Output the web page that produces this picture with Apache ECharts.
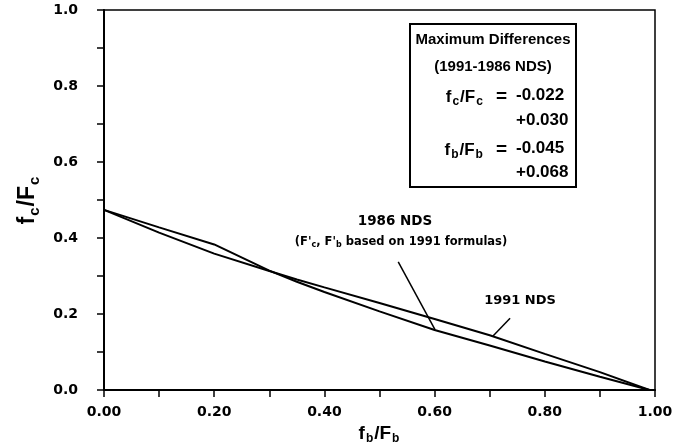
<!DOCTYPE html>
<html><head><meta charset="utf-8">
<script src="https://cdn.jsdelivr.net/npm/echarts@6/dist/echarts.min.js"></script>
<style>html,body{margin:0;padding:0;background:#fff}#c{width:686px;height:445px}</style>
</head><body><div id="c"></div>
<script>
// x = fb/Fb, y = fc/Fc
const nds1986X = [0, 0.1, 0.2, 0.3, 0.35, 0.4, 0.5, 0.6, 0.7, 0.8, 0.9, 0.99];
const nds1986Y = [0.474, 0.428, 0.383, 0.314, 0.285, 0.258, 0.207, 0.158, 0.117, 0.075, 0.035, 0];
const nds1991X = [0, 0.1, 0.2, 0.3, 0.35, 0.4, 0.5, 0.6, 0.7, 0.8, 0.9, 0.99];
const nds1991Y = [0.474, 0.414, 0.359, 0.313, 0.291, 0.27, 0.229, 0.187, 0.144, 0.095, 0.047, 0];
const leader1986 = [[0.534, 0.337], [0.601, 0.158]];
const leader1991 = [[0.737, 0.189], [0.706, 0.142]];
const boxLines = ['-0.022', '+0.030', '-0.045', '+0.068'];

const FF = '"DejaVu Sans", sans-serif';
const BF = '"Liberation Sans", Arial, sans-serif';
const pair = (xs, ys) => xs.map((x, i) => [x, ys[i]]);

const chart = echarts.init(document.getElementById('c'), null, {renderer: 'canvas'});
const axisCommon = {
  type: 'value', min: 0, max: 1, interval: 0.2,
  axisLine: {show: true, onZero: false, lineStyle: {color: '#000', width: 2}},
  axisTick: {show: true, inside: false, length: 7, lineStyle: {color: '#000', width: 1.5}},
  minorTick: {show: true, splitNumber: 2, length: 7, lineStyle: {color: '#000', width: 1.5}},
  splitLine: {show: false},
  minorSplitLine: {show: false}
};
const subRich = (big, small, fam) => ({
  m: {fontFamily: fam || BF, fontWeight: 'bold', fontSize: big, color: '#000'},
  s: {fontFamily: fam || BF, fontWeight: 'bold', fontSize: small, color: '#000', padding: [Math.round(big*0.55), 1, 0, 1]},
  e: {fontFamily: fam || BF, fontWeight: 'bold', fontSize: big + 2, color: '#000', padding: [0, 0, 0, 12]}
});
chart.setOption({
  backgroundColor: '#fff',
  animation: false,
  grid: {left: 104, top: 10, right: 31, bottom: 55, outerBoundsMode: 'none', containLabel: false,
    show: true, borderColor: '#000', borderWidth: 1.5},
  xAxis: Object.assign({}, axisCommon, {
    name: '{m|f}{s|b}{m|/F}{s|b}', nameLocation: 'middle', nameGap: 27,
    nameTextStyle: {rich: subRich(19, 12)},
    axisLabel: {margin: 15, color: '#000', fontFamily: FF, fontWeight: 'bold', fontSize: 14,
      formatter: v => v.toFixed(2)}
  }),
  yAxis: Object.assign({}, axisCommon, {
    name: '{m|f}{s|c}{m|/F}{s|c}', nameLocation: 'middle', nameGap: 62, nameRotate: 90,
    nameTextStyle: {rich: subRich(23, 15)},
    axisLabel: {margin: 26, color: '#000', fontFamily: FF, fontWeight: 'bold', fontSize: 14,
      formatter: v => v.toFixed(1)}
  }),
  series: [
    {name: '1986 NDS', type: 'line', data: pair(nds1986X, nds1986Y), showSymbol: false,
      lineStyle: {color: '#000', width: 2}, silent: true,
      markLine: {silent: true, symbol: 'none', label: {show: false}, lineStyle: {color: '#000', width: 1.5, type: 'solid'},
        data: [[{coord: leader1986[0]}, {coord: leader1986[1]}]]}},
    {name: '1991 NDS', type: 'line', data: pair(nds1991X, nds1991Y), showSymbol: false,
      lineStyle: {color: '#000', width: 2}, silent: true,
      markLine: {silent: true, symbol: 'none', label: {show: false}, lineStyle: {color: '#000', width: 1.5, type: 'solid'},
        data: [[{coord: leader1991[0]}, {coord: leader1991[1]}]]}}
  ],
  graphic: [
    {type: 'rect', shape: {x: 410, y: 24, width: 166, height: 163}, style: {fill: '#fff', stroke: '#000', lineWidth: 2}},
    {type: 'text', x: 493, y: 40, style: {text: 'Maximum Differences', font: 'bold 15px ' + BF, fill: '#000', align: 'center', verticalAlign: 'middle'}},
    {type: 'text', x: 493, y: 67, style: {text: '(1991-1986 NDS)', font: 'bold 15px ' + BF, fill: '#000', align: 'center', verticalAlign: 'middle'}},
    {type: 'text', x: 507, y: 97, style: {text: '{m|f}{s|c}{m|/F}{s|c}{e|=}', rich: subRich(17, 12), align: 'right', verticalAlign: 'middle'}},
    {type: 'text', x: 516, y: 95, style: {text: boxLines[0], font: 'bold 17px ' + BF, fill: '#000', align: 'left', verticalAlign: 'middle'}},
    {type: 'text', x: 516, y: 120, style: {text: boxLines[1], font: 'bold 17px ' + BF, fill: '#000', align: 'left', verticalAlign: 'middle'}},
    {type: 'text', x: 507, y: 150, style: {text: '{m|f}{s|b}{m|/F}{s|b}{e|=}', rich: subRich(17, 12), align: 'right', verticalAlign: 'middle'}},
    {type: 'text', x: 516, y: 148, style: {text: boxLines[2], font: 'bold 17px ' + BF, fill: '#000', align: 'left', verticalAlign: 'middle'}},
    {type: 'text', x: 516, y: 172, style: {text: boxLines[3], font: 'bold 17px ' + BF, fill: '#000', align: 'left', verticalAlign: 'middle'}},
    {type: 'text', x: 395, y: 221, style: {text: '1986 NDS', font: 'bold 13.5px ' + FF, fill: '#000', align: 'center', verticalAlign: 'middle'}},
    {type: 'text', x: 401, y: 242, style: {
      text: "{m|(F'}{s|c}{m|, F'}{s|b}{m| based on 1991 formulas)}",
      rich: {m: {fontFamily: FF, fontWeight: 'bold', fontSize: 11.5, color: '#000'},
             s: {fontFamily: FF, fontWeight: 'bold', fontSize: 8, color: '#000', padding: [6, 0, 0, 0]}},
      align: 'center', verticalAlign: 'middle'}},
    {type: 'text', x: 520, y: 301, style: {text: '1991 NDS', font: 'bold 13px ' + FF, fill: '#000', align: 'center', verticalAlign: 'middle'}}
  ]
});
</script></body></html>
